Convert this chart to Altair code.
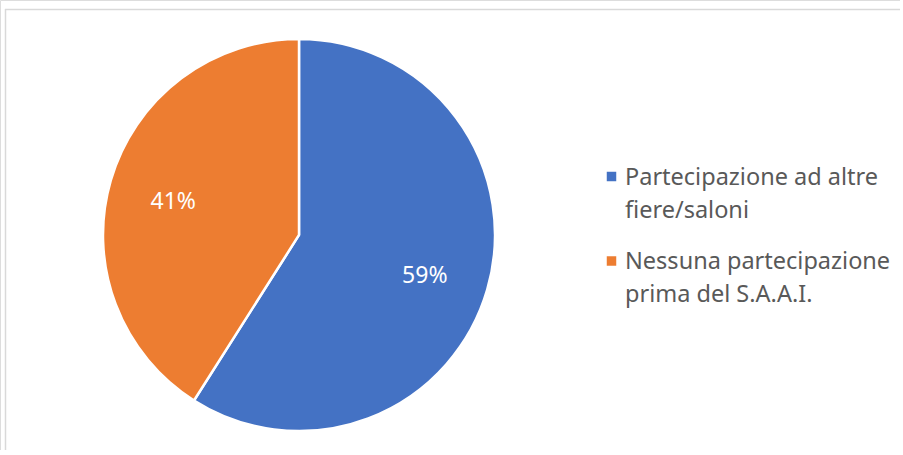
import altair as alt
import pandas as pd

categories = ["Partecipazione ad altre fiere/saloni", "Nessuna partecipazione prima del S.A.A.I."]
values = [59, 41]
labels = ["59%", "41%"]
legend_lines = ["Partecipazione ad altre\nfiere/saloni", "Nessuna partecipazione\nprima del S.A.A.I."]
colors = ["#4472C4", "#ED7D31"]

df = pd.DataFrame({
    "cat": categories,
    "val": values,
    "lab": labels,
    "leg": legend_lines,
    "idx": [0, 1],
    "order": [0, 1],
})

FONT = "Noto Sans"
CX, CY, R = 299, 235, 196

color = alt.Color("cat:N", scale=alt.Scale(domain=categories, range=colors), legend=None)

base = alt.Chart(df)

pie = base.mark_arc(outerRadius=R, stroke="white", strokeWidth=2.5).encode(
    theta=alt.Theta("val:Q", stack=True),
    color=color,
    order=alt.Order("order:Q"),
    x=alt.value(CX),
    y=alt.value(CY),
)

pie_text = base.mark_text(radius=131, fontSize=23, font=FONT, color="white", baseline="middle").encode(
    theta=alt.Theta("val:Q", stack=True),
    text="lab:N",
    order=alt.Order("order:Q"),
    x=alt.value(CX),
    y=alt.value(CY + 4),
)

leg_sym = base.mark_square(size=90, opacity=1).encode(
    x=alt.value(611.5),
    y=alt.Y("idx:Q", scale=alt.Scale(domain=[0, 1], range=[176.5, 261]), axis=None),
    color=color,
)

leg_text = base.mark_text(
    align="left", baseline="alphabetic", fontSize=23.5, font=FONT, color="#595959",
    lineBreak="\n", lineHeight=32.5,
).encode(
    x=alt.value(625),
    y=alt.Y("idx:Q", scale=alt.Scale(domain=[0, 1], range=[185, 269]), axis=None),
    text="leg:N",
)

border_left = alt.Chart(pd.DataFrame({"a": [0]})).mark_rule(color="#d9d9d9", strokeWidth=1.5).encode(
    x=alt.value(5.5), y=alt.value(9), y2=alt.value(450)
)
border_top = alt.Chart(pd.DataFrame({"a": [0]})).mark_rule(color="#d9d9d9", strokeWidth=1.5).encode(
    x=alt.value(5), x2=alt.value(900), y=alt.value(9.5)
)

chart = alt.layer(border_left, border_top, pie, pie_text, leg_sym, leg_text).resolve_scale(
    y="independent"
).properties(
    width=900, height=450, padding=0, autosize=alt.AutoSizeParams(type="none")
).configure_view(strokeWidth=0, stroke="transparent").configure(background="white")

chart.save("out.html", embed_options={"renderer": "svg", "actions": False})
